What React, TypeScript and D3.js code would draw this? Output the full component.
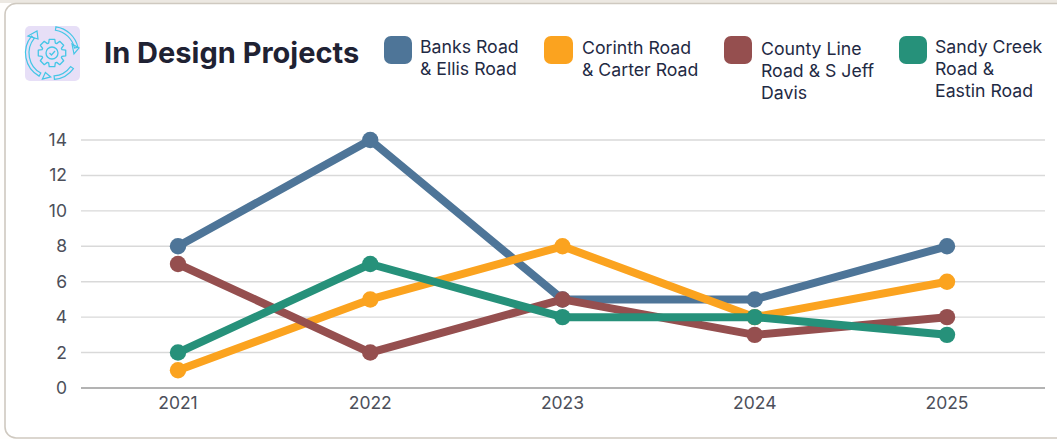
import React from "react";
import * as d3 from "d3";

const years = ["2021", "2022", "2023", "2024", "2025"];
const banks = [8, 14, 5, 5, 8];
const corinth = [1, 5, 8, 4, 6];
const county = [7, 2, 5, 3, 4];
const sandy = [2, 7, 4, 4, 3];
const yTicks = [0, 2, 4, 6, 8, 10, 12, 14];
const title = "In Design Projects";

const seriesNames = ["Banks Road & Ellis Road", "Corinth Road & Carter Road", "County Line Road & S Jeff Davis", "Sandy Creek Road & Eastin Road"];
const seriesValues = [banks, corinth, county, sandy];
const seriesColors = ["#4e7598", "#fba31f", "#954f4f", "#26917a"];
const legendLines = [
  ["Banks Road", "& Ellis Road"],
  ["Corinth Road", "& Carter Road"],
  ["County Line", "Road & S Jeff", "Davis"],
  ["Sandy Creek", "Road &", "Eastin Road"],
];
const legendSwatchX = [384, 544, 724, 899];
const legendSwatchW = [28, 29, 28, 28];
const legendTextX = [420, 582, 761, 935];

const x = d3.scalePoint<string>().domain(years).range([178, 947]);
const y = d3.scaleLinear().domain([0, 14]).range([388, 140]);
const line = d3.line<number>().x((_, i) => x(years[i]) as number).y((d) => y(d));

const labelFont = "Inter, Roboto, sans-serif";
const cyan = "#43c6e6";

function GearIcon() {
  const cx = 52, cy = 53;
  const teeth = d3.range(8).map((i) => {
    const a = (i * Math.PI) / 4;
    const p = (r: number, da: number) => `${cx + r * Math.cos(a + da)},${cy + r * Math.sin(a + da)}`;
    return `${p(10.5, -0.32)} ${p(14, -0.2)} ${p(14, 0.2)} ${p(10.5, 0.32)}`;
  });
  const ring = d3.arc();
  const arcs: [number, number][] = [[0.15, 1.35], [2.2, 3.05], [3.65, 5.4]];
  return (
    <g>
      <rect x={25} y={26} width={55} height={55} rx={5} fill="#e7dff7" />
      <polygon points={teeth.join(" ")} fill="none" stroke={cyan} strokeWidth={1.3} strokeLinejoin="round" />
      <circle cx={cx} cy={cy} r={6} fill="none" stroke={cyan} strokeWidth={1.3} />
      <path d={`M${cx - 2.5},${cy} l2,2 l3.5,-4`} fill="none" stroke={cyan} strokeWidth={1.3} />
      {arcs.map(([a, b], i) => (
        <path
          key={i}
          d={ring({ innerRadius: 23, outerRadius: 26.5, startAngle: a, endAngle: b } as any) as string}
          transform={`translate(${cx},${cy})`}
          fill="none"
          stroke={cyan}
          strokeWidth={1.2}
        />
      ))}
      <path d="M72,44 l7,4 l-5,6 Z" fill="none" stroke={cyan} strokeWidth={1.2} />
      <path d="M45,80 l-2,-7 l7,0 Z" transform="rotate(40 45 76)" fill="none" stroke={cyan} strokeWidth={1.2} />
      <path d="M28,36 l9,-5 l1,8 Z" fill="none" stroke={cyan} strokeWidth={1.2} />
    </g>
  );
}

export default function App() {
  return (
    <svg width={1057} height={439} style={{ position: "absolute", left: 0, top: 0, background: "#fff" }}>
      <rect x={0} y={0} width={1057} height={439} fill="#fffefd" />
      <rect x={0} y={0} width={1057} height={3} fill="#ece8e2" />
      <rect x={5} y={3.5} width={1100} height={434.5} rx={11} fill="#fff" stroke="#cfc9c0" strokeWidth={1.6} />

      <GearIcon />
      <text x={104} y={63} fontFamily="Inter, Roboto, sans-serif" fontWeight={700} fontSize={29} fill="#1f2233">
        {title}
      </text>

      {seriesNames.map((name, i) => (
        <g key={name}>
          <rect x={legendSwatchX[i]} y={36} width={legendSwatchW[i]} height={28} rx={7} fill={seriesColors[i]} />
          <text fontFamily={labelFont} fontSize={17.7} fill="#1f2a44">
            {legendLines[i].map((t, j) => (
              <tspan key={j} x={legendTextX[i]} y={(i === 0 ? 53 : i === 1 ? 54 : i === 2 ? 55 : 53) + j * 22}>
                {t}
              </tspan>
            ))}
          </text>
        </g>
      ))}

      {yTicks.map((t) => (
        <g key={t}>
          <line x1={81} x2={1045} y1={y(t)} y2={y(t)} stroke={t === 0 ? "#9a9a9a" : "#d9d9d9"} strokeWidth={t === 0 ? 1.6 : 1.4} />
          <text x={67} y={y(t) + 6} textAnchor="end" fontFamily={labelFont} fontSize={17.5} fill="#4c4f5a">
            {t}
          </text>
        </g>
      ))}
      {years.map((yr) => (
        <text key={yr} x={x(yr)} y={409} textAnchor="middle" fontFamily={labelFont} fontSize={17.5} fill="#4c4f5a">
          {yr}
        </text>
      ))}

      {seriesValues.map((vals, i) => (
        <g key={i}>
          <path d={line(vals) as string} fill="none" stroke={seriesColors[i]} strokeWidth={8} strokeLinejoin="round" />
          {vals.map((v, j) => (
            <circle key={j} cx={x(years[j])} cy={y(v)} r={8.2} fill={seriesColors[i]} />
          ))}
        </g>
      ))}
    </svg>
  );
}
